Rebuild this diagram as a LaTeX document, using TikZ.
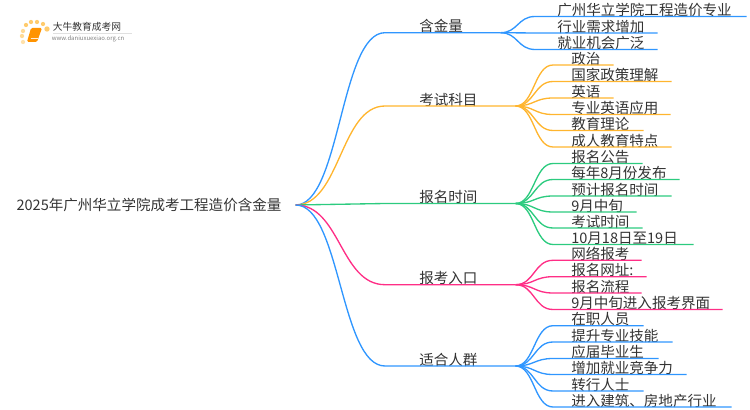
\documentclass[tikz,border=0pt]{standalone}
\usepackage{fontspec}
\usetikzlibrary{calc}
\setmainfont{Noto Sans CJK SC}
\definecolor{cblue}{HTML}{2F96FF}
\definecolor{corange}{HTML}{FFB52E}
\definecolor{cgreen}{HTML}{2CCB7F}
\definecolor{cpink}{HTML}{FF2E86}
\definecolor{ctext}{HTML}{333333}
\begin{document}
\begin{tikzpicture}[
		x=0.75pt, y=-0.75pt,
		% Define styles for nodes
		rootnode/.style={text=ctext, inner ysep=0pt, inner xsep=10.5pt, font=\fontsize{10.9}{13}\selectfont},
		wd/.style={text width=#1*0.75pt},
		textnode/.style={anchor=south west, inner sep=0pt, align=left, text=ctext, text height=9pt, text depth=0.5pt, font=\fontsize{10.9}{13}\selectfont},
		branch/.style={textnode, execute at begin node={\hspace*{25.5pt}}},
		leaf/.style={textnode, execute at begin node={\hspace*{13.5pt}}},
		leaffar/.style={textnode, execute at begin node={\hspace*{16.5pt}}},
		link/.style={to path={.. controls ($(\tikztostart)!0.5!(\tikztotarget |- \tikztostart)$) and ($(\tikztotarget)!0.5!(\tikztostart |- \tikztotarget)$) .. (\tikztotarget)}},
		conn/.style={draw=#1, line width=1pt},
		dot/.style={circle, fill=#1, inner sep=0pt, minimum size=3.2pt}
	]
	\useasboundingbox (0,0) rectangle (750,410);

	% Logo
	\node[dot=corange!70] (d1) at (26,25) {};
	\node[dot=corange!70] (d2) at (31,22) {};
	\node[dot=corange!70] (d3) at (37,22) {};
	\node[dot=corange!70] (d4) at (43,24) {};
	\node[dot=corange!70, minimum size=4pt] (d5) at (47,29) {};
	\node[dot=corange!50] (d6) at (23,31) {};
	\node[dot=corange!50] (d7) at (22,36) {};
	\node[dot=corange!40] (d8) at (23,42) {};
	\fill[orange!85!yellow, rounded corners=1pt] (31,28) -- (42,28) -- (37,42) -- (27,42) -- cycle;
	\draw[white!85!orange, line width=0.5pt] (30.5,38.5) -- (37.5,38.5);
	\node[inner sep=0pt, text=ctext, font=\fontsize{7.3}{9}\selectfont] (logotitle) at (87,27) {大牛教育成考网};
	\node[inner sep=0pt, text=gray, font=\fontsize{4.5}{6}\selectfont] (logourl) at (88,38.5) {www.daniuxuexiao.org.cn};
	\draw[black!12, line width=0.4pt] (53,33) -- (132,33);

	% Root node
	\node[rootnode] (root) at (149,205) {2025年广州华立学院成考工程造价含金量};

	% First level
	\node[branch, wd=115] (nA) at (385,32.7) {含金量};
	\node[branch, wd=130] (nB) at (385,106) {考试科目};
	\node[branch, wd=130] (nC) at (385,203.5) {报名时间};
	\node[branch, wd=130] (nD) at (385,284.7) {报考入口};
	\node[branch, wd=130] (nE) at (385,366) {适合人群};

	% Second level
	\node[leaffar, wd=211] (a1) at (535,16.5) {广州华立学院工程造价专业};
	\node[leaffar, wd=122] (a2) at (535,33) {行业需求增加};
	\node[leaffar, wd=122] (a3) at (535,49.5) {就业机会广泛};

	\node[leaf, wd=60] (b1) at (553,65) {政治};
	\node[leaf, wd=118] (b2) at (553,81.5) {国家政策理解};
	\node[leaf, wd=60] (b3) at (553,98) {英语};
	\node[leaf, wd=117] (b4) at (553,114.5) {专业英语应用};
	\node[leaf, wd=90] (b5) at (553,130.5) {教育理论};
	\node[leaf, wd=118] (b6) at (553,147) {成人教育特点};

	\node[leaf, wd=89] (c1) at (553,163.5) {报名公告};
	\node[leaf, wd=126] (c2) at (553,179.5) {每年8月份发布};
	\node[leaf, wd=118] (c3) at (553,196) {预计报名时间};
	\node[leaf, wd=83] (c4) at (553,212) {9月中旬};
	\node[leaf, wd=89] (c5) at (553,228) {考试时间};
	\node[leaf, wd=140] (c6) at (553,244.5) {10月18日至19日};

	\node[leaf, wd=88] (d1t) at (553,260.3) {网络报考};
	\node[leaf, wd=93] (d2t) at (553,276.7) {报名网址:};
	\node[leaf, wd=88] (d3t) at (553,293) {报名流程};
	\node[leaf, wd=169] (d4t) at (553,309.5) {9月中旬进入报考界面};

	\node[leaf, wd=90] (e1) at (553,325.7) {在职人员};
	\node[leaf, wd=119] (e2) at (553,342) {提升专业技能};
	\node[leaf, wd=105] (e3) at (553,358.5) {应届毕业生};
	\node[leaf, wd=133] (e4) at (553,374.5) {增加就业竞争力};
	\node[leaf, wd=90] (e5) at (553,391) {转行人士};
	\node[leaf, wd=178] (e6) at (553,407) {进入建筑、房地产行业};

	% Connectors
	\draw[conn=cblue] (root.east) to[link] (nA.south west) -- (nA.south east);
	\draw[conn=corange] (root.east) to[link] (nB.south west) -- (nB.south east);
	\draw[conn=cgreen] (root.east) to[link] (nC.south west) -- (nC.south east);
	\draw[conn=cpink] (root.east) to[link] (nD.south west) -- (nD.south east);
	\draw[conn=cblue] (root.east) to[link] (nE.south west) -- (nE.south east);

	\draw[conn=cblue] (nA.south east) to[link] (a1.south west) -- (a1.south east);
	\draw[conn=cblue] (nA.south east) to[link] (a2.south west) -- (a2.south east);
	\draw[conn=cblue] (nA.south east) to[link] (a3.south west) -- (a3.south east);

	\draw[conn=corange] (nB.south east) to[link] (b1.south west) -- (b1.south east);
	\draw[conn=corange] (nB.south east) to[link] (b2.south west) -- (b2.south east);
	\draw[conn=corange] (nB.south east) to[link] (b3.south west) -- (b3.south east);
	\draw[conn=corange] (nB.south east) to[link] (b4.south west) -- (b4.south east);
	\draw[conn=corange] (nB.south east) to[link] (b5.south west) -- (b5.south east);
	\draw[conn=corange] (nB.south east) to[link] (b6.south west) -- (b6.south east);

	\draw[conn=cgreen] (nC.south east) to[link] (c1.south west) -- (c1.south east);
	\draw[conn=cgreen] (nC.south east) to[link] (c2.south west) -- (c2.south east);
	\draw[conn=cgreen] (nC.south east) to[link] (c3.south west) -- (c3.south east);
	\draw[conn=cgreen] (nC.south east) to[link] (c4.south west) -- (c4.south east);
	\draw[conn=cgreen] (nC.south east) to[link] (c5.south west) -- (c5.south east);
	\draw[conn=cgreen] (nC.south east) to[link] (c6.south west) -- (c6.south east);

	\draw[conn=cpink] (nD.south east) to[link] (d1t.south west) -- (d1t.south east);
	\draw[conn=cpink] (nD.south east) to[link] (d2t.south west) -- (d2t.south east);
	\draw[conn=cpink] (nD.south east) to[link] (d3t.south west) -- (d3t.south east);
	\draw[conn=cpink] (nD.south east) to[link] (d4t.south west) -- (d4t.south east);

	\draw[conn=cblue] (nE.south east) to[link] (e1.south west) -- (e1.south east);
	\draw[conn=cblue] (nE.south east) to[link] (e2.south west) -- (e2.south east);
	\draw[conn=cblue] (nE.south east) to[link] (e3.south west) -- (e3.south east);
	\draw[conn=cblue] (nE.south east) to[link] (e4.south west) -- (e4.south east);
	\draw[conn=cblue] (nE.south east) to[link] (e5.south west) -- (e5.south east);
	\draw[conn=cblue] (nE.south east) to[link] (e6.south west) -- (e6.south east);
\end{tikzpicture}
\end{document}
